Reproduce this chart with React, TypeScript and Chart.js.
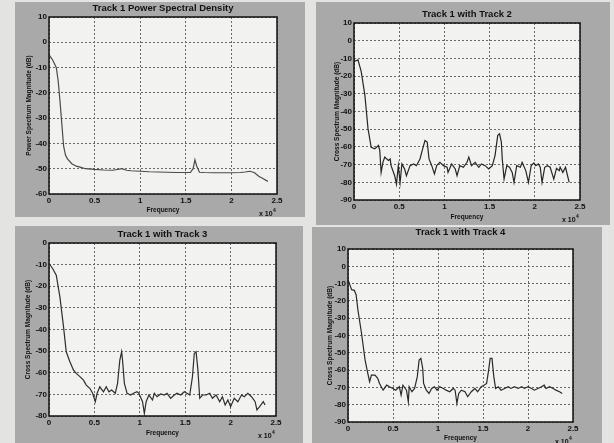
import React, { useEffect, useRef } from 'react';
import { Chart, registerables } from 'chart.js';

Chart.register(...registerables);

// Frequency in units of x 10^4
const freq1 = [0, 0.02, 0.04, 0.06, 0.08, 0.1, 0.12, 0.14, 0.16, 0.18, 0.2, 0.25, 0.3, 0.35, 0.4, 0.5, 0.6, 0.7, 0.75, 0.8, 0.85, 0.9, 1.0, 1.1, 1.2, 1.3, 1.4, 1.5, 1.55, 1.58, 1.6, 1.62, 1.65, 1.7, 1.8, 1.9, 2.0, 2.1, 2.15, 2.2, 2.25, 2.3, 2.35, 2.4];
const psd1 = [-5, -6, -7, -8.5, -10, -15, -23, -32, -41, -44.5, -46, -48, -49, -49.5, -50, -50.3, -50.5, -50.6, -50.3, -50, -50.6, -50.8, -51, -51.2, -51.3, -51.4, -51.5, -51.5, -51.5, -50, -46.5, -49, -51.4, -51.5, -51.6, -51.6, -51.6, -51.5, -51.3, -51, -51.5, -53, -54, -55];

const freq2 = [0, 0.044, 0.08, 0.12, 0.155, 0.19, 0.23, 0.27, 0.285, 0.3, 0.32, 0.34, 0.38, 0.4, 0.41, 0.45, 0.47, 0.49, 0.51, 0.53, 0.56, 0.58, 0.62, 0.66, 0.69, 0.73, 0.755, 0.785, 0.81, 0.83, 0.86, 0.89, 0.915, 0.95, 0.99, 1.03, 1.04, 1.08, 1.12, 1.14, 1.17, 1.21, 1.25, 1.27, 1.3, 1.34, 1.38, 1.41, 1.45, 1.49, 1.53, 1.56, 1.59, 1.61, 1.63, 1.64, 1.66, 1.69, 1.72, 1.75, 1.77, 1.8, 1.84, 1.86, 1.9, 1.93, 1.96, 1.99, 2.01, 2.04, 2.06, 2.08, 2.11, 2.14, 2.17, 2.21, 2.24, 2.27, 2.28, 2.31, 2.34, 2.38];
const csd12 = [-11.8, -10.8, -17.5, -30.7, -49.7, -60.2, -61.1, -59.2, -62, -74.4, -68.7, -65.8, -67.7, -66.8, -70.6, -76.3, -81, -70.6, -80.1, -69.6, -72.5, -76.3, -70.6, -69.6, -70.6, -66.8, -62, -56.4, -57.3, -66.8, -70.6, -75.3, -70.6, -68.7, -70.6, -71.5, -74.4, -69.6, -72.5, -76.3, -70.6, -71.5, -68.7, -65.8, -70.6, -68.7, -71.5, -69.6, -70.6, -72.5, -70.6, -64.9, -53.5, -52.6, -57.3, -66.8, -78.2, -70.6, -71.5, -74.4, -80.1, -70.6, -71.5, -68.7, -73.4, -80.1, -70.6, -69.1, -70.6, -69.6, -71.5, -80.1, -71.5, -70.6, -71.5, -78.2, -72.1, -73.4, -71.5, -74.4, -71.5, -80.1];

const freq3 = [0, 0.04, 0.08, 0.12, 0.16, 0.19, 0.23, 0.27, 0.3, 0.34, 0.38, 0.41, 0.45, 0.48, 0.51, 0.53, 0.56, 0.6, 0.63, 0.66, 0.69, 0.73, 0.755, 0.78, 0.8, 0.81, 0.83, 0.86, 0.9, 0.93, 0.97, 0.99, 1.03, 1.05, 1.07, 1.1, 1.14, 1.16, 1.19, 1.23, 1.27, 1.3, 1.34, 1.38, 1.41, 1.45, 1.49, 1.52, 1.55, 1.58, 1.6, 1.62, 1.64, 1.66, 1.69, 1.73, 1.77, 1.8, 1.84, 1.88, 1.91, 1.94, 1.97, 2.0, 2.04, 2.08, 2.12, 2.15, 2.19, 2.23, 2.27, 2.29, 2.32, 2.36, 2.38];
const csd13 = [-9.5, -11.8, -14.9, -24.9, -38.8, -50.3, -54.9, -58.8, -60.3, -61.8, -63.4, -65.7, -67.2, -69.5, -73.4, -69.5, -66.5, -68.8, -66.5, -68.8, -68, -69.5, -64.9, -54.2, -50.3, -54.2, -64.9, -69.5, -70.3, -69.5, -68.8, -69.5, -73.4, -78.8, -73.4, -70.3, -72.6, -69.5, -71.1, -69.8, -70.3, -69.5, -71.8, -70.3, -69.5, -70.3, -68.8, -69.5, -70.3, -61.8, -51.1, -50.3, -58.8, -71.8, -70.3, -70.3, -69.5, -71.8, -70.3, -73.4, -71.1, -74.9, -72.6, -75.7, -71.8, -73.4, -70.3, -71.1, -69.5, -71.1, -73.4, -77.2, -75.7, -73.4, -74.9];

const freq4 = [0, 0.02, 0.04, 0.07, 0.09, 0.11, 0.15, 0.19, 0.22, 0.24, 0.26, 0.3, 0.33, 0.35, 0.39, 0.43, 0.46, 0.5, 0.53, 0.57, 0.59, 0.61, 0.65, 0.67, 0.68, 0.71, 0.74, 0.77, 0.79, 0.81, 0.83, 0.84, 0.87, 0.9, 0.93, 0.96, 0.99, 1.02, 1.06, 1.09, 1.13, 1.17, 1.19, 1.21, 1.23, 1.26, 1.3, 1.33, 1.37, 1.41, 1.44, 1.48, 1.51, 1.54, 1.56, 1.58, 1.6, 1.62, 1.64, 1.67, 1.7, 1.74, 1.78, 1.81, 1.85, 1.89, 1.93, 1.96, 2.0, 2.04, 2.07, 2.11, 2.15, 2.18, 2.2, 2.24, 2.28, 2.31, 2.35, 2.38];
const csd14 = [-7.7, -10.6, -13.5, -13.9, -16.4, -25.1, -38.7, -54.2, -61.9, -66.7, -62.9, -62.9, -64.8, -67.7, -71.6, -68.7, -69.6, -70.6, -71.6, -69.6, -74.5, -68.7, -71.6, -78.3, -69.6, -72.5, -70.6, -63.8, -54.2, -53.2, -59, -67.7, -71.6, -73.5, -70.6, -69.6, -71.6, -69.6, -70.6, -71.6, -72.5, -70.6, -71.6, -79.3, -73.5, -71.6, -72.5, -75.4, -72.5, -70.6, -72.5, -69.6, -68.7, -67.7, -60.9, -53.2, -53.2, -63.8, -70.6, -69.6, -71.6, -70.6, -69.6, -70.6, -69.6, -70.6, -69.6, -70.6, -69.6, -70.6, -71.6, -70.6, -69.6, -68.7, -70.6, -69.6, -70.6, -71.6, -72.5, -73.5];

const titles = ['Track 1 Power Spectral Density', 'Track 1 with Track 2', 'Track 1 with Track 3', 'Track 1 with Track 4'];
const yTitles = ['Power Spectrum Magnitude (dB)', 'Cross Spectrum Magnitude (dB)', 'Cross Spectrum Magnitude (dB)', 'Cross Spectrum Magnitude (dB)'];
const xTitle = 'Frequency';
const yRanges = [[-60, 10], [-90, 10], [-80, 0], [-90, 10]];

type Spec = {
  box: { left: number; top: number; w: number; h: number };
  inset: { l: number; r: number; t: number; b: number };
  padLeft: number;
  padBottom: number;
  titlePadTop: number;
  lineColor: string;
  freq: number[];
  vals: number[];
  idx: number;
};

const specs: Spec[] = [
  { box: { left: 15, top: 2, w: 290, h: 215 }, inset: { l: 34, r: 28, t: 15, b: 23 }, padLeft: 10, padBottom: 3, titlePadTop: 1, lineColor: '#4a4a4a', freq: freq1, vals: psd1, idx: 0 },
  { box: { left: 316, top: 2, w: 294, h: 223 }, inset: { l: 38, r: 30, t: 21, b: 25 }, padLeft: 17, padBottom: 4, titlePadTop: 7, lineColor: '#262626', freq: freq2, vals: csd12, idx: 1 },
  { box: { left: 15, top: 226, w: 288, h: 217 }, inset: { l: 34, r: 27, t: 17, b: 27 }, padLeft: 9, padBottom: 6, titlePadTop: 3, lineColor: '#2e2e2e', freq: freq3, vals: csd13, idx: 2 },
  { box: { left: 312, top: 227, w: 290, h: 216 }, inset: { l: 36, r: 29, t: 22, b: 21 }, padLeft: 14, padBottom: 1, titlePadTop: 0, lineColor: '#2a2a2a', freq: freq4, vals: csd14, idx: 3 },
];

const FONT = "'Liberation Sans', Arial, sans-serif";

const framePlugin = {
  id: 'matlabFrame',
  beforeDraw(chart: any) {
    const { ctx, chartArea } = chart;
    const { left, top, right, bottom } = chartArea;
    ctx.save();
    ctx.fillStyle = '#f2f2f0';
    ctx.fillRect(left, top, right - left, bottom - top);
    ctx.restore();
  },
  afterDraw(chart: any) {
    const { ctx, chartArea } = chart;
    const { left, top, right, bottom } = chartArea;
    ctx.save();
    ctx.strokeStyle = '#111';
    ctx.lineWidth = 1.5;
    ctx.strokeRect(left, top, right - left, bottom - top);
    ctx.fillStyle = '#111';
    ctx.font = `bold 7px ${FONT}`;
    ctx.textBaseline = 'alphabetic';
    ctx.fillText('x 10', right - 18, bottom + 22);
    ctx.font = `bold 5px ${FONT}`;
    ctx.fillText('4', right - 4, bottom + 18);
    ctx.restore();
  },
};

function Panel({ spec }: { spec: Spec }) {
  const ref = useRef<HTMLCanvasElement>(null);
  useEffect(() => {
    const { inset, padLeft, padBottom, titlePadTop, idx } = spec;
    const titleBottom = inset.t - 11.4 - titlePadTop;
    const chart = new Chart(ref.current as HTMLCanvasElement, {
      type: 'line',
      data: {
        datasets: [
          {
            data: spec.freq.map((x, i) => ({ x, y: spec.vals[i] })),
            borderColor: spec.lineColor,
            borderWidth: 1.2,
            pointRadius: 0,
            tension: 0,
            fill: false,
          },
        ],
      },
      options: {
        responsive: false,
        animation: false,
        devicePixelRatio: 1,
        layout: { padding: { left: padLeft, right: inset.r, top: 0, bottom: padBottom } },
        plugins: {
          legend: { display: false },
          tooltip: { enabled: false },
          title: {
            display: true,
            text: titles[idx],
            color: '#111',
            font: { family: FONT, size: 9.5, weight: 'bold' },
            padding: { top: titlePadTop, bottom: titleBottom },
            fullSize: false,
          },
        },
        scales: {
          x: {
            type: 'linear',
            min: 0,
            max: 2.5,
            ticks: {
              stepSize: 0.5,
              color: '#111',
              font: { family: FONT, size: 8, weight: 'bold' },
              padding: 2,
              maxRotation: 0,
              callback: (v: any) => String(v),
            },
            grid: { color: '#6a6a6a', lineWidth: 1, drawTicks: false },
            border: { display: false, dash: [2, 2] },
            title: { display: true, text: xTitle, color: '#111', font: { family: FONT, size: 6.5, weight: 'bold' }, padding: 0 },
            afterFit: (scale: any) => {
              scale.height = inset.b - padBottom;
            },
          },
          y: {
            type: 'linear',
            min: yRanges[idx][0],
            max: yRanges[idx][1],
            ticks: { stepSize: 10, color: '#111', font: { family: FONT, size: 8, weight: 'bold' }, padding: 2, callback: (v: any) => String(v) },
            grid: { color: '#6a6a6a', lineWidth: 1, drawTicks: false },
            border: { display: false, dash: [2, 2] },
            title: { display: true, text: yTitles[idx], color: '#111', font: { family: FONT, size: 6.5, weight: 'bold' }, padding: 0 },
            afterFit: (scale: any) => {
              scale.width = inset.l - padLeft;
            },
          },
        },
      } as any,
      plugins: [framePlugin],
    });
    return () => chart.destroy();
  }, []);
  const { box } = spec;
  return (
    <div style={{ position: 'absolute', left: box.left, top: box.top, width: box.w, height: box.h, background: '#a9a9a9' }}>
      <canvas ref={ref} width={box.w} height={box.h} style={{ width: box.w, height: box.h, display: 'block' }} />
    </div>
  );
}

export default function App() {
  return (
    <div style={{ position: 'fixed', left: 0, top: 0, width: 614, height: 443, background: '#e3e3e1', overflow: 'hidden' }}>
      {specs.map((s) => (
        <Panel key={s.idx} spec={s} />
      ))}
    </div>
  );
}
